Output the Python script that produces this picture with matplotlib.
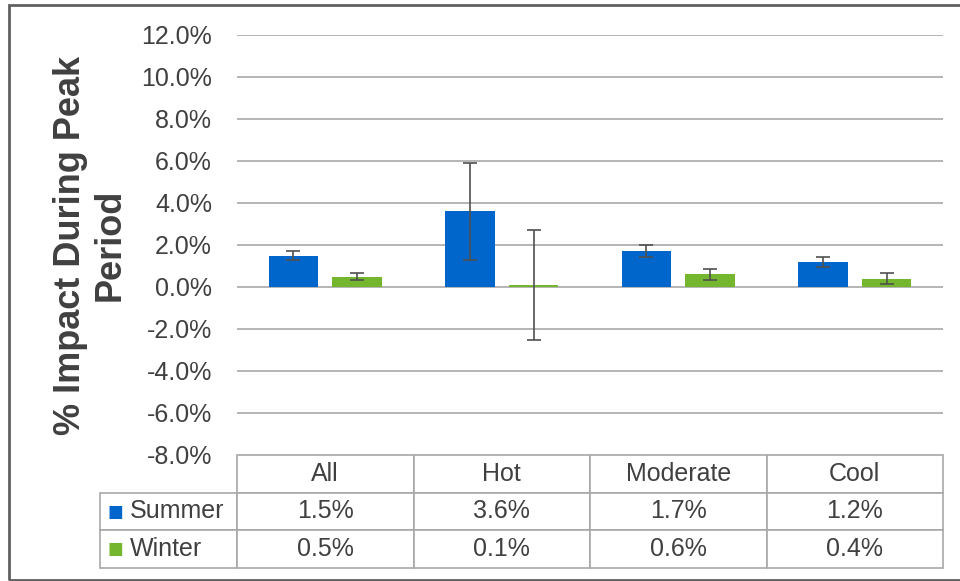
import matplotlib.pyplot as plt
import numpy as np
from matplotlib.patches import Rectangle

plt.rcParams['font.family'] = ['Liberation Sans', 'DejaVu Sans']

categories = ["All", "Hot", "Moderate", "Cool"]
seasons = ["Summer", "Winter"]
summer = [1.5, 3.6, 1.7, 1.2]
winter = [0.5, 0.1, 0.6, 0.4]
summer_err = [0.2, 2.3, 0.28, 0.25]
winter_err = [0.18, 2.6, 0.28, 0.25]
summer_lbl = ["1.5%", "3.6%", "1.7%", "1.2%"]
winter_lbl = ["0.5%", "0.1%", "0.6%", "0.4%"]

blue = '#0066CC'
green = '#74B72E'
txt = '#404040'
grid = '#B4B4B4'

fig = plt.figure(figsize=(9.6, 5.81), dpi=100)
ax = fig.add_axes([237/960, 1-455/581, (943-237)/960, 420/581])

x = np.arange(len(categories))
w = 0.28
ax.bar(x - 0.18, summer, w, color=blue, yerr=summer_err, capsize=5,
       error_kw=dict(ecolor='#505050', elinewidth=1.2, capthick=1.2), zorder=3)
ax.bar(x + 0.18, winter, w, color=green, yerr=winter_err, capsize=5,
       error_kw=dict(ecolor='#505050', elinewidth=1.2, capthick=1.2), zorder=3)

ax.set_xlim(-0.5, 3.5)
ax.set_ylim(-8, 12)
ticks = np.arange(-8, 13, 2)
ax.set_yticks(ticks)
ax.set_yticklabels([f"{t:.1f}%" for t in ticks], fontsize=18, color=txt)
ax.tick_params(axis='y', length=0, pad=18)
ax.set_xticks([])
ax.grid(axis='y', color=grid, linewidth=1.4, zorder=0)
for s in ax.spines.values():
    s.set_visible(False)

# data table under the plot
cell_text = [[""] + categories,
             ["Summer"] + summer_lbl,
             ["Winter"] + winter_lbl]
lab_w = 137 / 706
tbl = ax.table(cellText=cell_text, cellLoc='center',
               colWidths=[137] + [176.5] * 4,
               bbox=[-lab_w, -113/420, 1 + lab_w, 113/420])
tbl.auto_set_font_size(False)
tbl.set_fontsize(18)
for (r, c), cell in tbl.get_celld().items():
    cell.set_edgecolor('#A8A8A8')
    cell.set_linewidth(1.2)
    cell.get_text().set_color(txt)
    if r == 0 and c == 0:
        cell.visible_edges = ''
    if c == 0 and r > 0:
        cell.get_text().set_ha('left')
        cell._loc = 'left'
        cell.PAD = 0.215
for r, col in [(1, blue), (2, green)]:
    y = -113/420 + (3 - r - 0.5) * (113/420) / 3
    ax.text(-lab_w + 0.011, y, "■", color=col, fontsize=12,
            transform=ax.transAxes, va='center', ha='left',
            family=['DejaVu Sans'])

fig.text(0.094, 0.578, "% Impact During Peak\nPeriod", rotation=90,
         ha='center', va='center', multialignment='center',
         fontsize=26, fontweight='bold', color=txt)

# outer frame
fig.patches.append(Rectangle((9/960, 0.002), 1.0, 1 - 5/581 - 0.002,
                             transform=fig.transFigure, fill=False,
                             edgecolor='#606060', linewidth=2))

fig.savefig("out.png", dpi=100)
